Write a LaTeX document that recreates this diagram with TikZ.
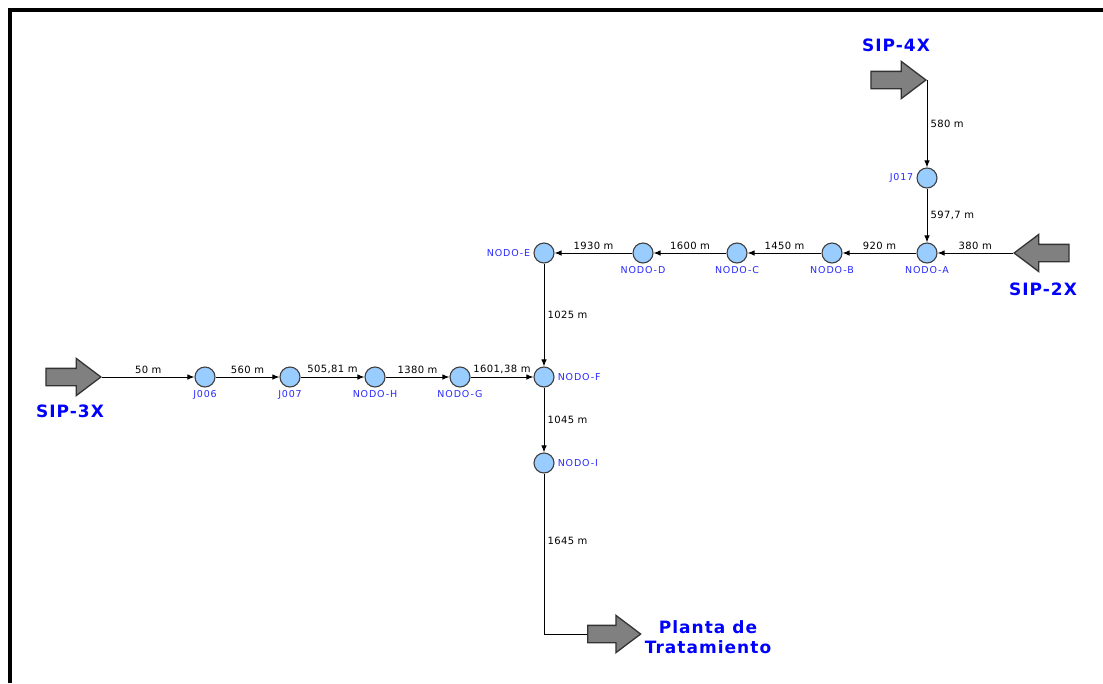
\documentclass[tikz,border=0pt]{standalone}
\usepackage{fontspec}
\setmainfont{DejaVu Sans}
\newfontfamily\taglabelfont[LetterSpace=9]{DejaVu Sans}
\newfontfamily\distlabelfont[LetterSpace=4]{DejaVu Sans}
\newfontfamily\biglabelfont[LetterSpace=6]{DejaVu Sans}
\usetikzlibrary{arrows.meta,shapes.arrows}
\definecolor{juncblue}{RGB}{153,204,255}
\definecolor{tagblue}{RGB}{40,40,255}
\begin{document}
\begin{tikzpicture}[x=1pt,y=-1pt,>={Latex[length=7pt,width=5.5pt]},
        junc/.style={circle,draw=black!75,fill=juncblue,line width=1.1pt,minimum size=20pt,inner sep=0pt,label distance=1pt},
        tag/.style={text=tagblue,font=\taglabelfont\fontsize{9.5}{11}\selectfont,inner sep=3pt},
        pipe/.style={->,line width=1pt},
        dist/.style={font=\distlabelfont\fontsize{10}{11}\selectfont,inner sep=3pt},
        src/.style={single arrow,draw=black!80,fill=black!50,line width=1.3pt,inner sep=8pt,
            minimum height=55pt,minimum width=36pt,single arrow head extend=10pt,single arrow tip angle=74},
        big/.style={text=blue,font=\biglabelfont\bfseries\fontsize{17}{20}\selectfont,align=center}]
        \useasboundingbox (0,0) rectangle (1103,683);
        \draw[line width=3.5pt] (10,683) -- (10,10) -- (1103,10);
        % sources and outlet
        \node[src,anchor=tip] (sip4) at (927,80) {};
        \node[src,anchor=tip,shape border rotate=180] (sip2) at (1013,253) {};
        \node[src,anchor=tip] (sip3) at (102,377) {};
        \node[src,anchor=tail,minimum height=53pt] (planta) at (587,634) {};
        \node[big] (lsip4) at (896,45) {SIP-4X};
        \node[big] (lsip2) at (1043,289) {SIP-2X};
        \node[big] (lsip3) at (70,411) {SIP-3X};
        \node[big] (lplanta) at (708,637) {Planta de\\Tratamiento};
        % junctions
        \node[junc,label={[tag]left:J017}] (j017) at (927,178) {};
        \node[junc,label={[tag]below:NODO-A}] (nodoa) at (927,253) {};
        \node[junc,label={[tag]below:NODO-B}] (nodob) at (832,253) {};
        \node[junc,label={[tag]below:NODO-C}] (nodoc) at (737,253) {};
        \node[junc,label={[tag]below:NODO-D}] (nodod) at (643,253) {};
        \node[junc,label={[tag]left:NODO-E}] (nodoe) at (544,253) {};
        \node[junc,label={[tag]right:NODO-F}] (nodof) at (544,377) {};
        \node[junc,label={[tag]right:NODO-I}] (nodoi) at (544,463) {};
        \node[junc,label={[tag]below:J006}] (j006) at (205,377) {};
        \node[junc,label={[tag]below:J007}] (j007) at (290,377) {};
        \node[junc,label={[tag]below:NODO-H}] (nodoh) at (375,377) {};
        \node[junc,label={[tag]below:NODO-G}] (nodog) at (460,377) {};
        % pipes
        \draw[pipe] (sip4.tip) -- node[right,dist] {580 m} (j017);
        \draw[pipe] (j017) -- node[right,dist] {597,7 m} (nodoa);
        \draw[pipe] (sip2.tip) -- node[above,dist] {380 m} (nodoa);
        \foreach \a/\b/\d in {nodoa/nodob/920 m, nodob/nodoc/1450 m, nodoc/nodod/1600 m, nodod/nodoe/1930 m,
                sip3.tip/j006/50 m, j006/j007/560 m, j007/nodoh/{505,81 m}, nodoh/nodog/1380 m, nodog/nodof/{1601,38 m}} {
            \draw[pipe] (\a) -- node[above,dist] {\d} (\b);
        }
        \draw[pipe] (nodoe) -- node[right,dist] {1025 m} (nodof);
        \draw[pipe] (nodof) -- node[right,dist] {1045 m} (nodoi);
        \draw[line width=1pt] (nodoi) |- node[pos=0.21,right,dist] {1645 m} (planta.tail);
    \end{tikzpicture}
\end{document}
